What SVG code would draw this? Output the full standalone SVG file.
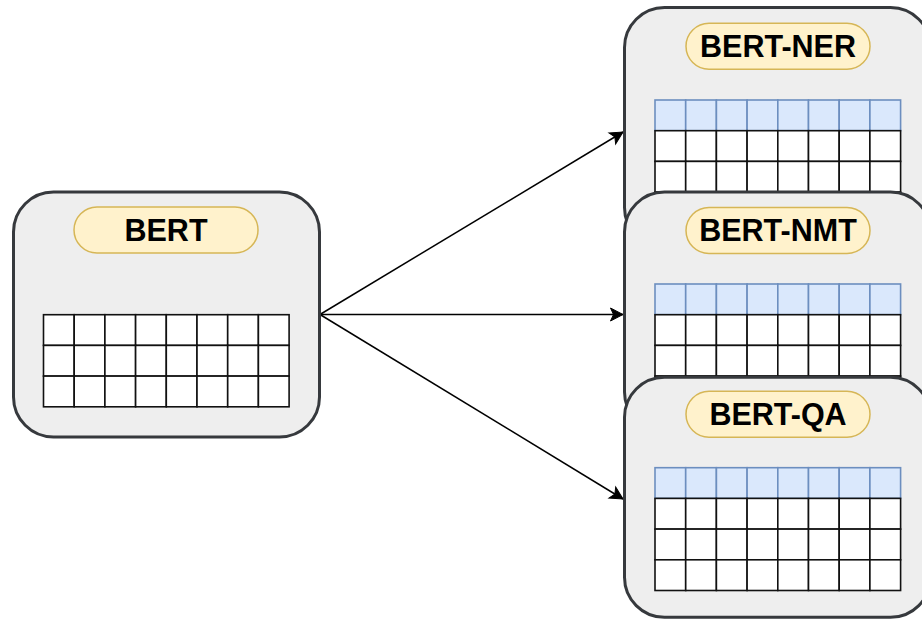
<svg xmlns="http://www.w3.org/2000/svg" xmlns:xlink="http://www.w3.org/1999/xlink" width="922" height="619" viewBox="0 0 922 619">
  <style>
    .box { fill: #eeeeee; stroke: #36393d; stroke-width: 3; }
    .pill { fill: #fff2cc; stroke: #d6b656; stroke-width: 1.5; }
    .title { font-family: "Liberation Sans", Arial, Helvetica, sans-serif; font-weight: bold; font-size: 30.5px; fill: #000000; text-anchor: middle; }
    .cell { fill: #ffffff; stroke: #111111; stroke-width: 1.6; }
    .cell-b { fill: #dae8fc; stroke: #6c8ebf; stroke-width: 1.6; }
    .edge { fill: none; stroke: #000000; stroke-width: 1.5; }
  </style>
  <defs>
    <marker id="arrow" markerUnits="userSpaceOnUse" markerWidth="16" markerHeight="16" viewBox="-14 -8 16 16" refX="0" refY="0" orient="auto">
      <path d="M -12.5 -6.5 L 0 0 L -12.5 6.5 L -9.5 0 Z" fill="#000000" stroke="#000000" stroke-width="1"/>
    </marker>
    <!-- one row of eight white cells -->
    <g id="row-w">
      <rect class="cell" x="0" y="0" width="30.7" height="30.7"/>
      <rect class="cell" x="30.7" y="0" width="30.7" height="30.7"/>
      <rect class="cell" x="61.4" y="0" width="30.7" height="30.7"/>
      <rect class="cell" x="92.1" y="0" width="30.7" height="30.7"/>
      <rect class="cell" x="122.8" y="0" width="30.7" height="30.7"/>
      <rect class="cell" x="153.5" y="0" width="30.7" height="30.7"/>
      <rect class="cell" x="184.2" y="0" width="30.7" height="30.7"/>
      <rect class="cell" x="214.9" y="0" width="30.7" height="30.7"/>
    </g>
    <!-- one row of eight blue (task-specific) cells -->
    <g id="row-b">
      <rect class="cell-b" x="0" y="0" width="30.7" height="30.7"/>
      <rect class="cell-b" x="30.7" y="0" width="30.7" height="30.7"/>
      <rect class="cell-b" x="61.4" y="0" width="30.7" height="30.7"/>
      <rect class="cell-b" x="92.1" y="0" width="30.7" height="30.7"/>
      <rect class="cell-b" x="122.8" y="0" width="30.7" height="30.7"/>
      <rect class="cell-b" x="153.5" y="0" width="30.7" height="30.7"/>
      <rect class="cell-b" x="184.2" y="0" width="30.7" height="30.7"/>
      <rect class="cell-b" x="214.9" y="0" width="30.7" height="30.7"/>
    </g>
  </defs>

  <rect x="0" y="0" width="922" height="619" fill="#ffffff"/>

  <!-- connectors -->
  <g id="connectors">
    <line class="edge" x1="320" y1="314.5" x2="623" y2="132" marker-end="url(#arrow)"/>
    <line class="edge" x1="320" y1="314.5" x2="623" y2="314.5" marker-end="url(#arrow)"/>
    <line class="edge" x1="320" y1="314.5" x2="623" y2="499" marker-end="url(#arrow)"/>
  </g>

  <!-- base model -->
  <g id="bert">
    <rect class="box" x="13.5" y="192" width="306" height="245" rx="40" ry="40"/>
    <rect class="pill" x="74" y="207" width="184" height="46" rx="23" ry="23"/>
    <text class="title" x="166" y="241">BERT</text>
    <use xlink:href="#row-w" x="43.5" y="314.7"/>
    <use xlink:href="#row-w" x="43.5" y="345.4"/>
    <use xlink:href="#row-w" x="43.5" y="376.1"/>
  </g>

  <!-- fine-tuned models -->
  <g id="bert-ner">
    <rect class="box" x="624.5" y="7.5" width="306" height="240" rx="40" ry="40"/>
    <rect class="pill" x="686" y="23.3" width="184" height="46" rx="23" ry="23"/>
    <text class="title" x="778" y="57.2">BERT-NER</text>
    <use xlink:href="#row-b" x="655" y="100"/>
    <use xlink:href="#row-w" x="655" y="130.7"/>
    <use xlink:href="#row-w" x="655" y="161.4"/>
    <use xlink:href="#row-w" x="655" y="192.1"/>
  </g>

  <g id="bert-nmt">
    <rect class="box" x="624.5" y="192" width="306" height="240" rx="40" ry="40"/>
    <rect class="pill" x="686" y="207.5" width="184" height="46" rx="23" ry="23"/>
    <text class="title" x="778" y="241.4">BERT-NMT</text>
    <use xlink:href="#row-b" x="655" y="284"/>
    <use xlink:href="#row-w" x="655" y="314.7"/>
    <use xlink:href="#row-w" x="655" y="345.4"/>
    <use xlink:href="#row-w" x="655" y="376.1"/>
  </g>

  <g id="bert-qa">
    <rect class="box" x="624.5" y="377.3" width="306" height="240" rx="40" ry="40"/>
    <rect class="pill" x="686" y="391.3" width="184" height="46" rx="23" ry="23"/>
    <text class="title" x="778" y="425">BERT-QA</text>
    <use xlink:href="#row-b" x="655" y="467.7"/>
    <use xlink:href="#row-w" x="655" y="498.4"/>
    <use xlink:href="#row-w" x="655" y="529.1"/>
    <use xlink:href="#row-w" x="655" y="559.8"/>
  </g>
</svg>
